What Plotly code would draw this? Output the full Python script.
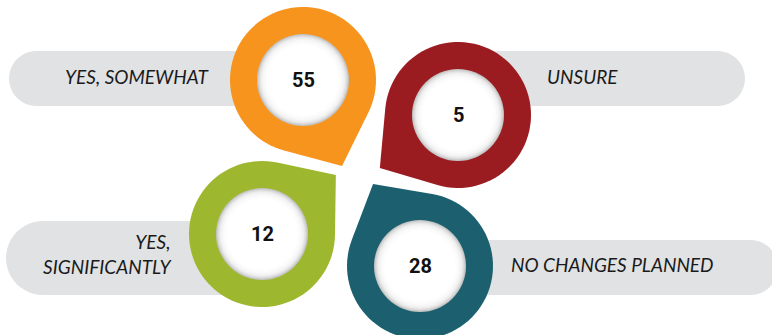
import math
import plotly.graph_objects as go

# Survey answers and counts
categories = ["YES, SOMEWHAT", "UNSURE", "YES,<br>SIGNIFICANTLY", "NO CHANGES PLANNED"]
values = [55, 5, 12, 28]
pin_colors = ["#F7941D", "#9B1C20", "#9DB82E", "#1C6070"]

# Pin layout (pixel space): ring centre and direction of the tip in degrees
pin_centers = [(303, 80), (458, 115), (262, 234), (420, 266)]
tip_angles = [65.6, 145.8, -38.6, -119.8]
PIN_R = 73
HOLE_R = 46
TIP_DIST = 94.5

# Grey label pills: (x0, x1, y0, y1)
pills = [(9, 300, 51, 106), (460, 745, 51, 106), (6, 262, 221, 295), (420, 778, 240, 295)]
PILL_COLOR = "#E1E2E4"

# Label text placement: (x, y, anchor)
label_pos = [(211, 76, "right"), (545, 76, "left"), (173, 254, "right"), (509, 264, "left")]

W, H = 772, 335
fig = go.Figure()
shapes = []


def pill_path(x0, x1, y0, y1, n=24):
    r = (y1 - y0) / 2
    cy = (y0 + y1) / 2
    pts = []
    for i in range(n + 1):
        a = -math.pi / 2 + math.pi * i / n
        pts.append((x1 - r + r * math.cos(a), cy + r * math.sin(a)))
    for i in range(n + 1):
        a = math.pi / 2 + math.pi * i / n
        pts.append((x0 + r + r * math.cos(a), cy + r * math.sin(a)))
    return "M " + " L ".join(f"{x:.2f},{y:.2f}" for x, y in pts) + " Z"


def pin_path(cx, cy, ang_deg, n=72):
    t = math.radians(ang_deg)
    tx, ty = cx + TIP_DIST * math.cos(t), cy + TIP_DIST * math.sin(t)
    alpha = math.acos(PIN_R / TIP_DIST)
    pts = [(tx, ty)]
    start = t + alpha
    sweep = 2 * math.pi - 2 * alpha
    for i in range(n + 1):
        a = start + sweep * i / n
        pts.append((cx + PIN_R * math.cos(a), cy + PIN_R * math.sin(a)))
    return "M " + " L ".join(f"{x:.2f},{y:.2f}" for x, y in pts) + " Z"


for (x0, x1, y0, y1) in pills:
    shapes.append(dict(type="path", path=pill_path(x0, x1, y0, y1), xref="x", yref="y",
                       fillcolor=PILL_COLOR, line=dict(width=0), layer="below"))

# inner-shadow steps for the white discs
shade = [(HOLE_R, "#c3c3c3"), (45, "#d2d2d2"), (44, "#dfdfdf"), (43, "#e9e9e9"),
         (42, "#f1f1f1"), (40.5, "#f7f7f7"), (38.5, "#fcfcfc"), (36, "#ffffff")]

for (cx, cy), ang, col in zip(pin_centers, tip_angles, pin_colors):
    shapes.append(dict(type="path", path=pin_path(cx, cy, ang), xref="x", yref="y",
                       fillcolor=col, line=dict(width=0), layer="above"))
    for r, c in shade:
        shapes.append(dict(type="circle", xref="x", yref="y", x0=cx - r, x1=cx + r,
                           y0=cy - r, y1=cy + r, fillcolor=c, line=dict(width=0), layer="above"))

annotations = []
# counts in the middle of each pin
for v, (cx, cy) in zip(values, pin_centers):
    annotations.append(dict(x=cx, y=cy, xref="x", yref="y", text=str(v), showarrow=False,
                            xanchor="center", yanchor="middle",
                            font=dict(family="Roboto", size=20, color="#111111", weight="bold")))

for txt, (x, y, anchor) in zip(categories, label_pos):
    annotations.append(dict(x=x, y=y, xref="x", yref="y", text=txt, showarrow=False,
                            xanchor=anchor, yanchor="middle", align=anchor,
                            font=dict(family="Lato", size=19, color="#1a1a1a", style="italic")))

# invisible trace so the axes are laid out
fig.add_trace(go.Scatter(x=[0, W], y=[0, H], mode="markers", marker=dict(opacity=0),
                         hoverinfo="skip", showlegend=False))

fig.update_layout(
    width=W, height=H, margin=dict(l=0, r=0, t=0, b=0),
    paper_bgcolor="white", plot_bgcolor="white",
    xaxis=dict(range=[0, W], visible=False, fixedrange=True),
    yaxis=dict(range=[H, 0], visible=False, fixedrange=True),
    shapes=shapes, annotations=annotations,
)

fig.write_html("out.html")
